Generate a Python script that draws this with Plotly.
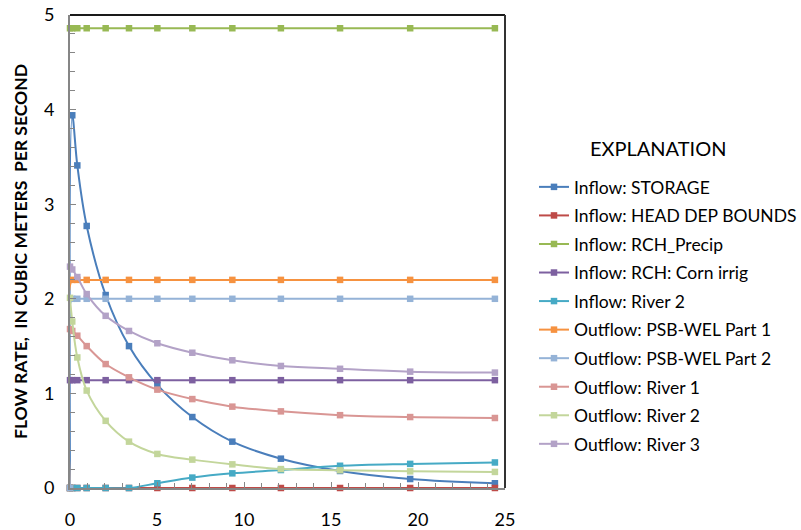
import plotly.graph_objects as go

# Time (x values)
time = [0, 0.13, 0.42, 0.96, 2.05, 3.39, 5.02, 7.03, 9.33, 12.12, 15.52, 19.55, 24.42]

inflow_storage = [0.0, 3.94, 3.41, 2.77, 2.04, 1.50, 1.09, 0.75, 0.49, 0.31, 0.18, 0.095, 0.05]
inflow_head_dep = [0.0, 0.0, 0.0, 0.0, 0.0, 0.0, 0.0, 0.0, 0.0, 0.0, 0.0, 0.0, 0.0]
inflow_rch_precip = [4.86, 4.86, 4.86, 4.86, 4.86, 4.86, 4.86, 4.86, 4.86, 4.86, 4.86, 4.86, 4.86]
inflow_rch_corn = [1.14, 1.14, 1.14, 1.14, 1.14, 1.14, 1.14, 1.14, 1.14, 1.14, 1.14, 1.14, 1.14]
inflow_river2 = [0.0, 0.0, 0.0, 0.0, 0.0, 0.0, 0.05, 0.11, 0.155, 0.19, 0.235, 0.255, 0.27]
outflow_psb1 = [0.0, 2.20, 2.20, 2.20, 2.20, 2.20, 2.20, 2.20, 2.20, 2.20, 2.20, 2.20, 2.20]
outflow_psb2 = [0.0, 2.00, 2.00, 2.00, 2.00, 2.00, 2.00, 2.00, 2.00, 2.00, 2.00, 2.00, 2.00]
outflow_river1 = [1.68, 1.66, 1.61, 1.50, 1.31, 1.17, 1.04, 0.94, 0.86, 0.81, 0.77, 0.75, 0.74]
outflow_river2 = [2.01, 1.76, 1.38, 1.03, 0.71, 0.49, 0.36, 0.30, 0.25, 0.20, 0.187, 0.176, 0.17]
outflow_river3 = [2.34, 2.31, 2.23, 2.05, 1.82, 1.66, 1.53, 1.43, 1.35, 1.29, 1.26, 1.23, 1.22]

series_names = [
    "Inflow: STORAGE",
    "Inflow: HEAD DEP BOUNDS",
    "Inflow: RCH_Precip",
    "Inflow: RCH: Corn irrig",
    "Inflow: River 2",
    "Outflow: PSB-WEL Part 1",
    "Outflow: PSB-WEL Part 2",
    "Outflow: River 1",
    "Outflow: River 2",
    "Outflow: River 3",
]
series_values = [
    inflow_storage, inflow_head_dep, inflow_rch_precip, inflow_rch_corn, inflow_river2,
    outflow_psb1, outflow_psb2, outflow_river1, outflow_river2, outflow_river3,
]
series_colors = [
    "#4A7EBB", "#BE4B48", "#98B954", "#7D60A0", "#46AAC5",
    "#F69240", "#95B3D7", "#D99694", "#C3D69B", "#B3A2C7",
]

FONT = "Lato"
W, H = 801, 530
ML, MR, MT, MB = 70, 296, 15, 42
PW = W - ML - MR
PH = H - MT - MB


def px_x(px):
    return (px - ML) / PW


def px_y(py):
    return (H - MB - py) / PH


fig = go.Figure()
for i, (name, vals, col) in enumerate(zip(series_names, series_values, series_colors)):
    fig.add_trace(go.Scatter(
        x=time, y=vals, name=name, mode="lines+markers",
        line=dict(color=col, width=2, shape="spline", smoothing=1),
        marker=dict(symbol="square", size=6.5, color=col),
        cliponaxis=False,
        legendgroup=f"g{i}",
    ))

fig.update_layout(
    width=W, height=H,
    margin=dict(l=ML, r=MR, t=MT, b=MB, autoexpand=False),
    paper_bgcolor="white", plot_bgcolor="white",
    font=dict(family=FONT, color="#000000"),
    showlegend=True,
    legend=dict(
        x=px_x(534), xanchor="left",
        y=px_y(169), yanchor="top",
        font=dict(family=FONT, size=17.5, color="#000000"),
        tracegroupgap=2.8,
        bgcolor="rgba(0,0,0,0)",
        itemclick=False,
    ),
    xaxis=dict(
        range=[0, 25], tickvals=[0, 5, 10, 15, 20, 25],
        showgrid=False, zeroline=False, automargin=False,
        showline=True, linecolor="#868686", linewidth=2,
        ticks="inside", ticklen=6, tickcolor="#868686", tickwidth=1,
        minor=dict(dtick=1, ticks="inside", ticklen=5, tickcolor="#868686", tickwidth=1, showgrid=False),
        tickfont=dict(family=FONT, size=18, color="#000000"),
        ticklabelstandoff=14,
    ),
    yaxis=dict(
        range=[0, 5], tickvals=[0, 1, 2, 3, 4, 5],
        showgrid=False, zeroline=False, automargin=False,
        showline=True, linecolor="#868686", linewidth=2,
        ticks="inside", ticklen=6, tickcolor="#868686", tickwidth=1,
        minor=dict(dtick=0.2, ticks="inside", ticklen=5, tickcolor="#868686", tickwidth=1, showgrid=False),
        tickfont=dict(family=FONT, size=18, color="#000000"),
        ticklabelstandoff=10,
        title=dict(text="FLOW RATE,\u00a0 IN CUBIC METERS\u00a0 PER SECOND",
                   font=dict(family=FONT, size=17.5, color="#000000", weight="bold"),
                   standoff=12),
    ),
    annotations=[
        dict(text="EXPLANATION", xref="paper", yref="paper",
             x=px_x(658), y=px_y(148), xanchor="center", yanchor="middle",
             showarrow=False, font=dict(family=FONT, size=20, color="#000000")),
    ],
    shapes=[
        dict(type="line", xref="paper", yref="paper", x0=0, x1=1, y0=1, y1=1,
             line=dict(color="#1a1a1a", width=2), layer="below"),
        dict(type="line", xref="paper", yref="paper", x0=1, x1=1, y0=0, y1=1,
             line=dict(color="#333333", width=2), layer="below"),
    ],
)

fig.write_html("out.html")
